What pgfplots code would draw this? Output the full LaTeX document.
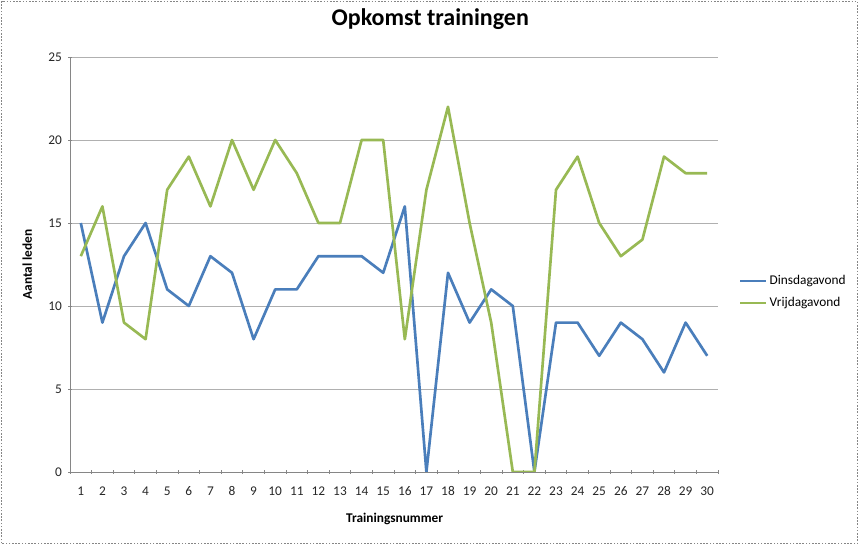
\documentclass[border=0pt]{standalone}
\usepackage{fontspec}
\setmainfont{Carlito}
\usepackage{pgfplots}
\pgfplotsset{compat=1.18}
\definecolor{dblue}{HTML}{4A7EBB}
\definecolor{vgreen}{HTML}{98B954}
\definecolor{axgray}{HTML}{868686}
\definecolor{grdgray}{HTML}{B0B0B0}
\begin{document}
\begin{tikzpicture}[x=0.75pt,y=0.75pt]
\useasboundingbox (0,0) rectangle (859,545);
\draw[axgray, dash pattern=on 1.2pt off 1.2pt, line width=0.6pt] (1.5,1.5) rectangle (857.5,543.5);
\begin{axis}[
  at={(52.5pt,54.75pt)}, anchor=south west,
  scale only axis, width=486pt, height=311.25pt,
  xmin=0.5, xmax=30.5, ymin=0, ymax=25,
  xtick={1,...,30}, minor xtick={0.5,1.5,...,30.5},
  ytick={0,5,...,25},
  major x tick style={draw=none},
  minor x tick style={axgray, line width=0.5pt},
  major y tick style={axgray, line width=0.5pt},
  minor tick length=3pt, major tick length=3pt,
  tick align=outside,
  axis x line=bottom, axis y line=left,
  axis line style={-, axgray, line width=0.6pt},
  ymajorgrids, grid style={grdgray, line width=0.6pt},
  /pgf/number format/assume math mode=true,
  tick label style={font=\fontsize{10}{12}\selectfont, text=black!85},
  xticklabel style={yshift=-6pt},
  yticklabel style={xshift=-1pt},
  title={Opkomst trainingen},
  title style={at={(rel axis cs:0.556,1.072)}, anchor=center, font=\bfseries\fontsize{18}{21}\selectfont},
  xlabel={Trainingsnummer},
  xlabel style={at={(rel axis cs:0.501,-0.113)}, anchor=center, font=\bfseries\fontsize{10}{12}\selectfont},
  ylabel={Aantal leden},
  ylabel style={at={(rel axis cs:-0.066,0.5)}, anchor=center, rotate=0, font=\bfseries\fontsize{10}{12}\selectfont},
  legend style={at={(rel axis cs:1.032,0.434)}, anchor=west, draw=none, fill=none,
    font=\fontsize{10}{12}\selectfont, row sep=4pt, inner sep=0pt},
  legend cell align=left,
  legend image code/.code={\draw[#1] (0pt,0pt) -- (19pt,0pt);},
]
\addplot[dblue, line width=2pt, line join=round] coordinates {
(1,15) (2,9) (3,13) (4,15) (5,11) (6,10) (7,13) (8,12) (9,8) (10,11)
(11,11) (12,13) (13,13) (14,13) (15,12) (16,16) (17,0) (18,12) (19,9) (20,11)
(21,10) (22,0) (23,9) (24,9) (25,7) (26,9) (27,8) (28,6) (29,9) (30,7)};
\addlegendentry{Dinsdagavond}
\addplot[vgreen, line width=2pt, line join=round] coordinates {
(1,13) (2,16) (3,9) (4,8) (5,17) (6,19) (7,16) (8,20) (9,17) (10,20)
(11,18) (12,15) (13,15) (14,20) (15,20) (16,8) (17,17) (18,22) (19,15) (20,9)
(21,0) (22,0) (23,17) (24,19) (25,15) (26,13) (27,14) (28,19) (29,18) (30,18)};
\addlegendentry{Vrijdagavond}
\end{axis}
\end{tikzpicture}
\end{document}
